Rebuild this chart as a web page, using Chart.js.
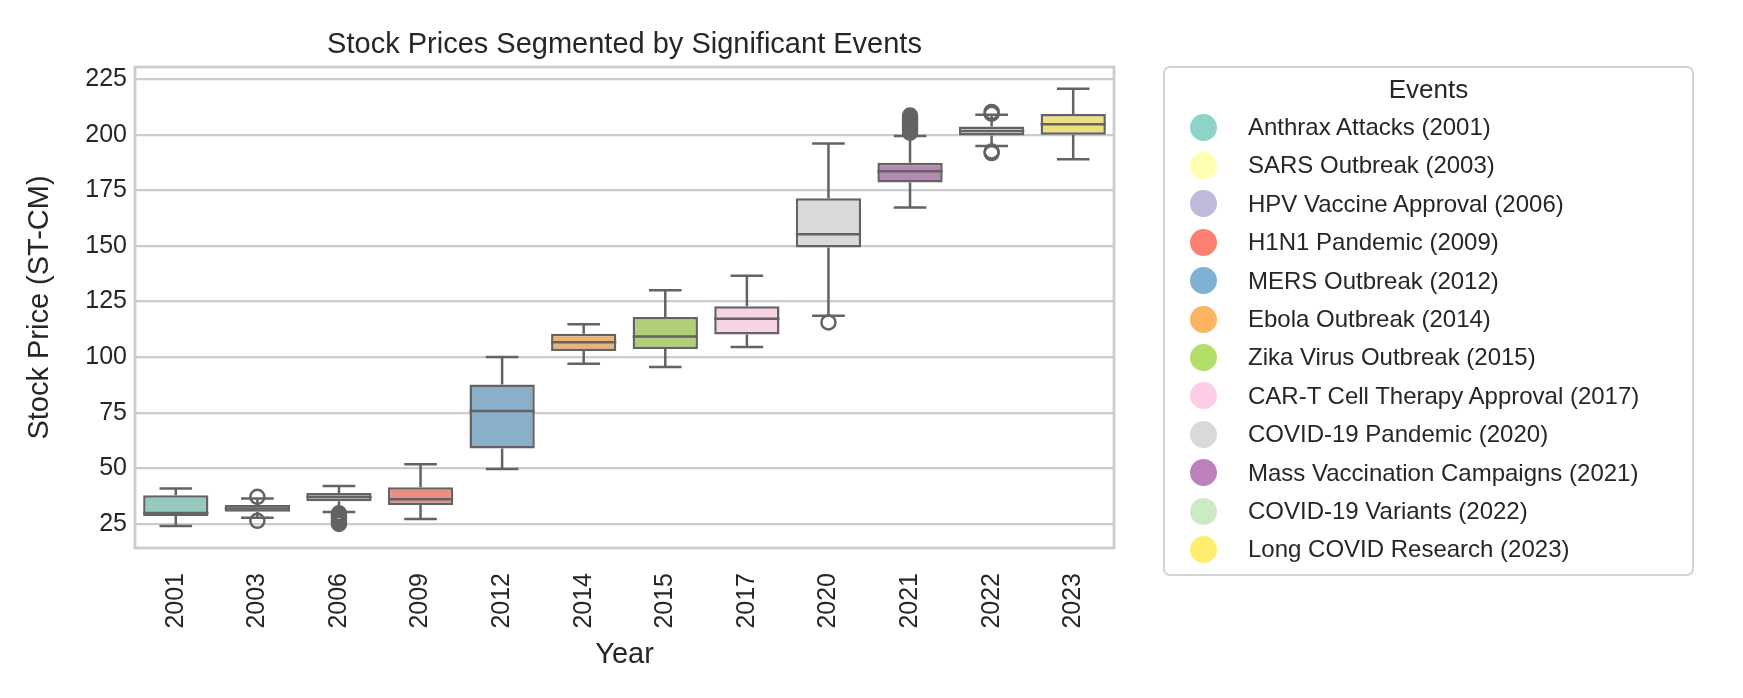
<!DOCTYPE html>
<html>
<head>
<meta charset="utf-8">
<title>Stock Prices Segmented by Significant Events</title>
<script src="https://cdn.jsdelivr.net/npm/chart.js@4.4.1/dist/chart.umd.min.js"></script>
<style>
  html, body { margin: 0; padding: 0; background: #fff; }
  #wrap { position: relative; width: 1743px; height: 698px; }
  #legend {
    position: absolute; left: 1163px; top: 66px; width: 531px; height: 510px;
    box-sizing: border-box; border: 2px solid #d4d4d4; border-radius: 7px;
    font-family: "Liberation Sans", Arial, sans-serif; color: #262626; background: #fff;
  }
  #legend .title { position: absolute; left: 0; right: 0; top: 2px; height: 38px; line-height: 38px; text-align: center; font-size: 26px; }
  #legend .row { position: absolute; left: 0; height: 40px; line-height: 40px; font-size: 24px; white-space: nowrap; }
  #legend .dot { position: absolute; left: 25px; top: 6.5px; width: 27px; height: 27px; border-radius: 50%; }
  #legend .txt { position: absolute; left: 83px; top: 0; }
</style>
</head>
<body>
<div id="wrap">
  <canvas id="chart" width="1743" height="698"></canvas>
  <div id="legend"></div>
</div>
<script>
// === DATA ===
const years = ["2001", "2003", "2006", "2009", "2012", "2014", "2015", "2017", "2020", "2021", "2022", "2023"];
const events = [
  "Anthrax Attacks (2001)", "SARS Outbreak (2003)", "HPV Vaccine Approval (2006)", "H1N1 Pandemic (2009)",
  "MERS Outbreak (2012)", "Ebola Outbreak (2014)", "Zika Virus Outbreak (2015)", "CAR-T Cell Therapy Approval (2017)",
  "COVID-19 Pandemic (2020)", "Mass Vaccination Campaigns (2021)", "COVID-19 Variants (2022)", "Long COVID Research (2023)"
];
const whiskerLow  = [24.1, 27.8, 30.4, 27.2, 49.7, 97.0, 95.5, 104.5, 118.6, 167.3, 194.9, 188.9];
const q1          = [28.6, 30.5, 35.2, 33.5, 58.9, 102.7, 103.7, 110.2, 149.3, 178.5, 199.6, 200.0];
const median      = [29.9, 32.0, 37.1, 36.1, 75.8, 106.7, 109.3, 117.2, 155.2, 183.5, 201.6, 204.7];
const q3          = [37.9, 33.5, 38.9, 41.5, 87.7, 110.5, 118.0, 122.9, 171.4, 187.4, 203.6, 209.3];
const whiskerHigh = [41.0, 36.5, 42.1, 51.8, 100.0, 114.8, 130.1, 136.6, 196.0, 199.4, 208.9, 220.6];

const outlierYears = [
  "2003", "2003",
  "2006", "2006", "2006", "2006", "2006", "2006", "2006",
  "2020",
  "2021", "2021", "2021", "2021", "2021", "2021", "2021", "2021", "2021", "2021",
  "2022", "2022", "2022", "2022"
];
const outlierValues = [
  37.2, 26.4,
  29.8, 29.0, 28.2, 27.4, 26.6, 25.8, 25.0,
  115.6,
  200.9, 201.8, 202.6, 203.5, 204.3, 205.2, 206.0, 206.9, 207.7, 208.6,
  209.4, 210.2, 191.7, 192.4
];
const yTicks = [25, 50, 75, 100, 125, 150, 175, 200, 225];

// Set3 palette
const palette = ["#8dd3c7", "#ffffb3", "#bebada", "#fb8072", "#80b1d3", "#fdb462",
                 "#b3de69", "#fccde5", "#d9d9d9", "#bc80bd", "#ccebc5", "#ffed6f"];

// === HELPERS ===
const FONT = '"Liberation Sans", Arial, sans-serif';
const TEXT = "#262626";
const LINE = "#636363";

// seaborn-style desaturation of box fills (s * 0.75 in HLS)
function desaturate(hex, prop) {
  let r = parseInt(hex.slice(1, 3), 16) / 255;
  let g = parseInt(hex.slice(3, 5), 16) / 255;
  let b = parseInt(hex.slice(5, 7), 16) / 255;
  const max = Math.max(r, g, b), min = Math.min(r, g, b);
  const l = (max + min) / 2;
  if (max === min) return hex;
  const d = max - min;
  const s = l > 0.5 ? d / (2 - max - min) : d / (max + min);
  let h;
  if (max === r) h = ((g - b) / d + (g < b ? 6 : 0)) / 6;
  else if (max === g) h = ((b - r) / d + 2) / 6;
  else h = ((r - g) / d + 4) / 6;
  const s2 = s * prop;
  const q = l < 0.5 ? l * (1 + s2) : l + s2 - l * s2;
  const p = 2 * l - q;
  const hue = t => {
    if (t < 0) t += 1;
    if (t > 1) t -= 1;
    if (t < 1 / 6) return p + (q - p) * 6 * t;
    if (t < 1 / 2) return q;
    if (t < 2 / 3) return p + (q - p) * (2 / 3 - t) * 6;
    return p;
  };
  const to = v => Math.round(v * 255);
  return `rgb(${to(hue(h + 1 / 3))},${to(hue(h))},${to(hue(h - 1 / 3))})`;
}
const boxColors = palette.map(c => desaturate(c, 0.75));

// === LEGEND (html) ===
const legendEl = document.getElementById("legend");
legendEl.innerHTML = '<div class="title">Events</div>';
events.forEach((ev, i) => {
  const row = document.createElement("div");
  row.className = "row";
  row.style.top = (39 + i * 38.4) + "px";
  row.innerHTML = `<span class="dot" style="background:${palette[i]}"></span><span class="txt">${ev}</span>`;
  legendEl.appendChild(row);
});

// === PLUGINS ===
const framePlugin = {
  id: "frame",
  beforeDatasetsDraw(chart) {
    const { ctx, chartArea: a } = chart;
    ctx.save();
    ctx.strokeStyle = "#cccccc";
    ctx.lineWidth = 2.8;
    ctx.strokeRect(a.left, a.top, a.right - a.left, a.bottom - a.top);
    ctx.restore();
  }
};

const whiskerPlugin = {
  id: "whiskers",
  afterDatasetsDraw(chart) {
    const { ctx } = chart;
    const y = chart.scales.y;
    const bars = chart.getDatasetMeta(0).data;
    ctx.save();
    ctx.strokeStyle = LINE;
    ctx.lineWidth = 2.5;
    ctx.lineCap = "butt";
    bars.forEach((bar, i) => {
      const x = bar.x, half = bar.width / 2, cap = bar.width / 4;
      ctx.beginPath();
      // whiskers
      ctx.moveTo(x, y.getPixelForValue(q3[i]));
      ctx.lineTo(x, y.getPixelForValue(whiskerHigh[i]));
      ctx.moveTo(x, y.getPixelForValue(q1[i]));
      ctx.lineTo(x, y.getPixelForValue(whiskerLow[i]));
      // caps
      ctx.moveTo(x - cap, y.getPixelForValue(whiskerHigh[i]));
      ctx.lineTo(x + cap, y.getPixelForValue(whiskerHigh[i]));
      ctx.moveTo(x - cap, y.getPixelForValue(whiskerLow[i]));
      ctx.lineTo(x + cap, y.getPixelForValue(whiskerLow[i]));
      // median
      ctx.moveTo(x - half, y.getPixelForValue(median[i]));
      ctx.lineTo(x + half, y.getPixelForValue(median[i]));
      ctx.stroke();
    });
    ctx.restore();
  }
};

// === CHART ===
const chart = new Chart(document.getElementById("chart").getContext("2d"), {
  type: "bar",
  data: {
    labels: years,
    datasets: [
      {
        type: "bar",
        label: "IQR",
        data: years.map((_, i) => [q1[i], q3[i]]),
        backgroundColor: boxColors,
        borderColor: LINE,
        borderWidth: 2.5,
        borderSkipped: false,
        categoryPercentage: 0.8,
        barPercentage: 1.0,
        order: 2
      },
      {
        type: "line",
        label: "Outliers",
        data: outlierYears.map((yr, i) => ({ x: yr, y: outlierValues[i] })),
        showLine: false,
        pointRadius: 7,
        pointBorderWidth: 2.5,
        pointBackgroundColor: "rgba(0,0,0,0)",
        pointBorderColor: LINE,
        order: 1
      }
    ]
  },
  options: {
    responsive: false,
    animation: false,
    devicePixelRatio: 1,
    layout: { padding: { left: 0, right: 629, top: 0, bottom: 0 } },
    plugins: {
      legend: { display: false },
      tooltip: { enabled: false },
      title: {
        display: true,
        fullSize: false,
        text: "Stock Prices Segmented by Significant Events",
        color: TEXT,
        font: { family: FONT, size: 29, weight: "normal", lineHeight: 1.2 },
        padding: { top: 28, bottom: 4.2 }
      }
    },
    scales: {
      x: {
        grid: { display: false, drawTicks: false },
        border: { display: false },
        ticks: { color: TEXT, font: { family: FONT, size: 25 }, minRotation: 90, maxRotation: 90, padding: 25 },
        title: { display: true, text: "Year", color: TEXT, font: { family: FONT, size: 29, lineHeight: 1.2 }, padding: { top: 0, bottom: 26 } },
        afterFit: s => { s.height = 150; }
      },
      y: {
        min: 14.2,
        max: 230.4,
        afterBuildTicks: s => { s.ticks = yTicks.map(v => ({ value: v })); },
        grid: { color: "#cccccc", lineWidth: 2.2, drawTicks: false },
        border: { display: false },
        ticks: { color: TEXT, font: { family: FONT, size: 25 }, padding: 8 },
        title: { display: true, text: "Stock Price (ST-CM)", color: TEXT, font: { family: FONT, size: 29, lineHeight: 1.2 }, padding: { top: 23, bottom: 0 } },
        afterFit: s => { s.width = 135; }
      }
    }
  },
  plugins: [framePlugin, whiskerPlugin]
});
</script>
</body>
</html>
